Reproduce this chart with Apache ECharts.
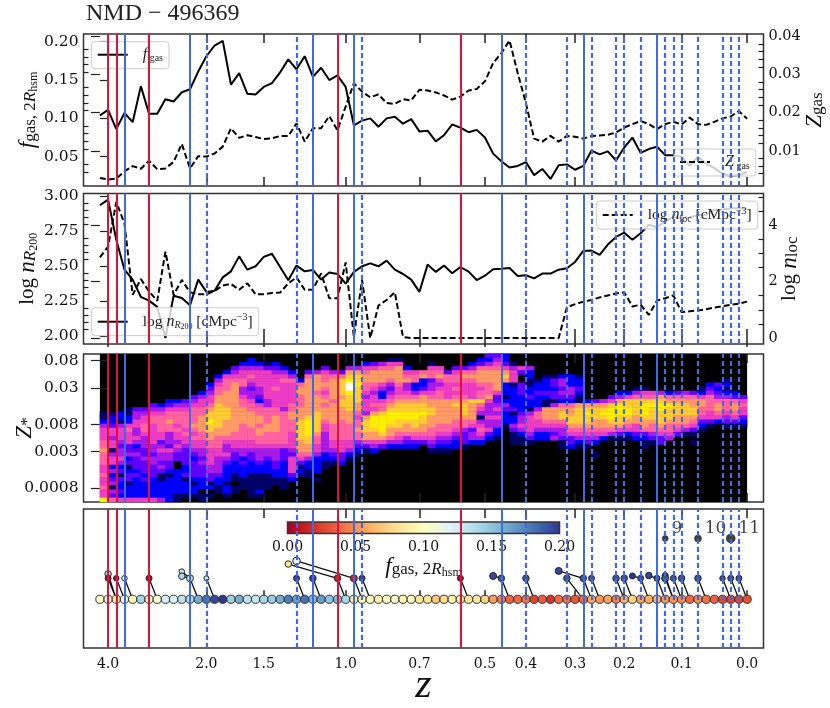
<!DOCTYPE html>
<html>
<head>
<meta charset="utf-8">
<style>html,body{margin:0;padding:0;background:#fff}#main{width:830px;height:708px}</style>
<script src="https://cdn.jsdelivr.net/npm/echarts@6/dist/echarts.min.js"></script>
</head>
<body>
<div id="main"></div>
<script>
// snapshots are equally spaced on the x axis, the redshift labels sit on top of that
var zTickIdx = [1, 13, 20, 30, 39, 47, 52, 58, 64, 71, 79];
var zTickLabels = ['4.0', '2.0', '1.5', '1.0', '0.7', '0.5', '0.4', '0.3', '0.2', '0.1', '0.0'];

var fgas = [0.104, 0.111, 0.086, 0.107, 0.095, 0.142, 0.106, 0.106, 0.125, 0.122,
	0.134, 0.138, 0.161, 0.181, 0.195, 0.201, 0.144, 0.159, 0.132, 0.131,
	0.141, 0.146, 0.160, 0.177, 0.164, 0.181, 0.154, 0.166, 0.150, 0.156,
	0.141, 0.091, 0.097, 0.100, 0.089, 0.100, 0.102, 0.093, 0.099, 0.083,
	0.084, 0.070, 0.078, 0.092, 0.088, 0.082, 0.085, 0.075, 0.054, 0.044,
	0.036, 0.038, 0.043, 0.026, 0.034, 0.021, 0.039, 0.040, 0.033, 0.038,
	0.058, 0.053, 0.057, 0.045, 0.062, 0.075, 0.055, 0.060, 0.063, 0.052,
	0.052, 0.050, 0.038, 0.050, 0.041, 0.035, 0.028, 0.025, 0.026, 0.030];
var zgas = [0.0029, 0.0025, 0.0027, 0.0046, 0.0060, 0.0053, 0.0074, 0.0052, 0.0054, 0.0071,
	0.0118, 0.0054, 0.0086, 0.0085, 0.0093, 0.0111, 0.0159, 0.0134, 0.0141, 0.0136,
	0.0131, 0.0133, 0.0139, 0.0139, 0.0172, 0.0124, 0.0159, 0.0159, 0.0191, 0.0154,
	0.0216, 0.0277, 0.0255, 0.0240, 0.0248, 0.0225, 0.0223, 0.0235, 0.0232, 0.0260,
	0.0258, 0.0253, 0.0245, 0.0234, 0.0242, 0.0258, 0.0262, 0.0282, 0.0330, 0.0356,
	0.0389, 0.0304, 0.0225, 0.0132, 0.0124, 0.0139, 0.0124, 0.0139, 0.0137, 0.0132,
	0.0139, 0.0140, 0.0142, 0.0148, 0.0161, 0.0170, 0.0178, 0.0170, 0.0157, 0.0170,
	0.0176, 0.0169, 0.0187, 0.0170, 0.0168, 0.0176, 0.0185, 0.0190, 0.0204, 0.0184];
var nR200 = [2.936, 2.976, 2.690, 2.476, 2.405, 2.281, 2.255, 2.210, 1.988, 2.290,
	2.274, 2.221, 2.405, 2.317, 2.326, 2.421, 2.464, 2.571, 2.476, 2.500,
	2.567, 2.590, 2.495, 2.400, 2.505, 2.464, 2.474, 2.405, 2.455, 2.445,
	2.376, 2.460, 2.500, 2.521, 2.500, 2.540, 2.476, 2.445, 2.405, 2.317,
	2.512, 2.460, 2.505, 2.450, 2.495, 2.462, 2.402, 2.433, 2.479, 2.483,
	2.488, 2.431, 2.436, 2.414, 2.448, 2.448, 2.476, 2.486, 2.531, 2.610,
	2.612, 2.581, 2.655, 2.710, 2.740, 2.690, 2.736, 2.798, 2.779, 2.821,
	2.852, 2.845, 2.850, 2.864, 2.869, 2.902, 2.905, 2.912, 2.917, 2.910];
var nLoc = [2.86, 3.24, 4.82, 4.06, 1.53, 2.09, 1.65, 1.32, 3.06, 1.53,
	2.06, 1.62, 1.55, 1.55, 1.67, 1.86, 1.92, 1.71, 1.94, 1.55,
	1.55, 1.60, 1.61, 1.94, 2.15, 1.71, 1.72, 2.29, 1.41, 1.41,
	2.68, 0.04, 2.06, 0, 1.15, 1.35, 1.62, 0.04, 0, 0,
	0, 0, 0, 0, 0, 0, 0, 0, 0, 0,
	0, 0, 0, 0, 0, 0, 0, 1.09, 1.20, 1.29,
	1.35, 1.44, 1.51, 1.58, 1.62, 1.12, 1.18, 0.82, 1.33, 1.41,
	1.51, 0.92, 0.95, 0.98, 1.02, 1.08, 1.13, 1.18, 1.22, 1.29];

// event lines
var redSolid = [1, 2, 6, 29, 44];
var blueSolid = [3, 11, 26, 31, 49, 59, 68];
var blueDashed = [13, 24, 32, 52, 57, 60, 63, 64, 66, 69, 70, 71, 73, 76, 77, 78];

// Z* map: first filled row of each column (0 = top) and the colour level of the rows below it
var zstarTop = [14, 14, 14, 13, 13, 13, 12, 12, 11, 11, 11, 10, 9, 7, 5, 4, 3, 2, 1, 2,
	2, 2, 3, 4, 6, 4, 4, 3, 4, 4, 3, 3, 2, 2, 2, 1, 1, 3, 4, 4,
	2, 3, 4, 3, 3, 2, 1, 0, 0, 0, 2, 3, 3, 6, 5, 5, 5, 5, 5, 11,
	11, 11, 10, 9, 9, 8, 8, 9, 9, 9, 9, 9, 9, 8, 7, 7, 6, 9, 10];
var zstarCols = [
	'1124555667666556556559', '1223554551455242341436', '2214555434454231322325',
	'11225655533423123312225', '34455445423433323222225', '34556654443343332322225',
	'345665555544344333222225', '245666655345443431122224', '2356676644435443321222222',
	'2456665655454330022222211', '3456666565543333223122210', '34566667656554323333212210',
	'245566777766554434333222011', '23455678898877665555443312010', '2456677888888776665544443221100',
	'25666777788877776544543222212210', '345677777777777766554332221101100', '2455664456677776666554423222111000',
	'22456543445667777666554332221111110', '2455554432566776776654443221111210', '1355555554466667766654432221111000',
	'234555655556677776665444332211', '245655555546666666653332222111', '246555556677666555543555532',
	'267766677788888777653121', '36777777777899998877642211', '477776777788888766554222201',
	'3566765676777655444442211', '46777776777776666554321', '36888878877766666555332',
	'4789aa98888777666655421', '4788988887765667664321', '2567766545554788877531',
	'3577765455657999877542', '467775422566899998753', '1567764345678999877642',
	'1577776556788998876542', '25674456788998776432', '5662246788998876532',
	'672235778898877653', '1566344567788777665431', '567545667777776654321',
	'36655557777776654321', '35665656787776654322', '36765556788876643331',
	'24676555587777653442', '236777656686541456542', '324677766675444544532',
	'345677777533454544221', '223578722212432221', '14555122222312243111',
	'5300333222234454211', '4221122322145555431', '122322246655422',
	'1222321177765422', '1332331477765434', '244343267886544311',
	'222443267788765332', '122321178888765421', '278988765431',
	'37888776542001', '4789877652', '35899987641',
	'247999887531', '258899876521', '1468888775532',
	'156899987763211', '5689888766431', '4789988876533',
	'267988876654', '36788877653', '46788877641',
	'3677887653101', '12577665321', '23466665531',
	'3234677652', '121246665431', '236776531', '35655321'];

// merger nodes of the bottom panel and where their connector ends
var nodeIdx = [1, 1, 2, 3, 6, 10, 10, 11, 13, 23, 24, 24, 26, 29, 31, 32, 44, 48, 49, 52,
	56, 57, 59, 60, 63, 64, 65, 66, 67, 68, 69, 69, 70, 71, 73, 76, 77, 78];
var nodeLevel = [1.21, 1, 1, 1, 1, 1.32, 1.10, 1, 1, 1.68, 1.83, 1, 1, 1, 1, 1, 1, 1.11, 1, 1,
	1.35, 1, 1, 1, 1, 1, 1.11, 1, 1.13, 1, 1.13, 1, 1, 1, 1, 1, 1, 1];
var nodeFgas = [0.14, 0.005, 0.005, 0.105, 0.005, 0.135, 0.14, 0.135, 0.135, 0.085, 0.115, 0.195, 0.195, 0.015, 0.015, 0.195, 0.005, 0.195, 0.19, 0.19,
	0.195, 0.19, 0.19, 0.19, 0.19, 0.19, 0.2, 0.19, 0.195, 0.19, 0.195, 0.19, 0.19, 0.19, 0.19, 0.19, 0.19, 0.19];
var nodeSize = [6.5, 6, 5.5, 5.5, 6, 5.5, 6.5, 7, 5, 6.5, 7.5, 6, 6.5, 6.5, 7, 6, 6, 7, 6.5, 6.5,
	7, 6.5, 6.5, 6, 6.5, 6.5, 6, 6, 6.5, 6, 6, 7, 6, 6.5, 6.5, 5.5, 6, 6];
var nodeToIdx = [2, 2, 3, 4, 7, 11, 11, 12, 14, 29, 31, 25, 27, 30, 32, 33, 45, 49, 50, 53,
	59, 59, 60, 61, 64, 65, 66, 67, 68, 69, 70, 70, 71, 72, 74, 77, 78, 79];
var nodeToLevel = [0, 0, 0, 0, 0, 1, 1, 0, 0, 1, 1, 0, 0, 0, 0, 0, 0, 1, 0, 0,
	1, 0, 0, 0, 0, 0, 1, 0, 1, 0, 0, 0, 0, 0, 0, 0, 0, 0];

// black size key in the corner
var sizeKeyIdx = [69, 73, 77];
var sizeKeySize = [6, 7, 9];
var sizeKeyLabels = ['9', '10', '11'];

var cbarTicks = [0, 0.05, 0.1, 0.15, 0.2];
var rdylbu = ['#a50026', '#d73027', '#f46d43', '#fdae61', '#fee090', '#ffffbf', '#e0f3f8', '#abd9e9', '#74add1', '#4575b4', '#313695'];
var gnuplot2 = ['#000000', '#000066', '#0000ff', '#6000ff', '#a81ae8', '#ec3cc4', '#ff62a0', '#ff9a66', '#ffcc33', '#ffee00', '#ffffff'];

var SERIF = 'DejaVu Serif';
var MATH = 'Liberation Serif';
var FRAME = '#333';

function xy(arr) {
	return arr.map(function (v, i) { return [i, v]; });
}
function steps(a, b, d, skip) {
	var out = [];
	for (var k = 0; a + k * d <= b + d / 100; k++) {
		if (k % skip) out.push(+(a + k * d).toFixed(4));
	}
	return out;
}

function xAxisOf(g, pos, withLabels, tickLen) {
	return {
		type: 'value', gridIndex: g, position: pos, min: -2, max: 81,
		splitLine: { show: false }, axisLine: { show: false },
		axisTick: { show: true, inside: true, length: tickLen, customValues: zTickIdx, lineStyle: { color: '#222', width: 1.5 } },
		axisLabel: {
			show: withLabels, customValues: zTickIdx, margin: 9, fontSize: 14, fontFamily: SERIF, color: '#111',
			formatter: function (v) { return zTickLabels[zTickIdx.indexOf(v)]; }
		}
	};
}
function yAxisOf(g, pos, min, max, ticks, tickLen, fmt, name, gap) {
	var a = {
		type: 'value', gridIndex: g, position: pos, min: min, max: max,
		splitLine: { show: false }, axisLine: { show: false },
		axisTick: { show: tickLen > 0, inside: true, length: tickLen, customValues: ticks, lineStyle: { color: '#222', width: 1.2 } },
		axisLabel: { show: !!fmt, customValues: ticks, margin: 5, fontSize: pos === 'left' ? 15.5 : 14.5, fontFamily: SERIF, color: '#111', formatter: fmt }
	};
	if (name) {
		a.name = name;
		a.nameLocation = 'middle';
		a.nameRotate = 90;
		a.nameGap = gap;
		a.nameMoveOverlap = false;
		a.nameTextStyle = { rich: mathRich, color: '#111' };
	}
	return a;
}

var mathRich = {
	t: { fontFamily: MATH, fontSize: 21, color: '#111', lineHeight: 24 },
	i: { fontFamily: MATH, fontStyle: 'italic', fontSize: 23, color: '#111', lineHeight: 24 },
	s: { fontFamily: MATH, fontSize: 17, color: '#111', lineHeight: 16, verticalAlign: 'bottom' },
	si: { fontFamily: MATH, fontStyle: 'italic', fontSize: 17, color: '#111', lineHeight: 16, verticalAlign: 'bottom' },
	ss: { fontFamily: MATH, fontSize: 12, color: '#111', lineHeight: 10, verticalAlign: 'bottom' }
};
var legRich = {
	g: { width: 10 },
	t: { fontFamily: MATH, fontSize: 15.5, color: '#222', lineHeight: 18 },
	i: { fontFamily: MATH, fontStyle: 'italic', fontSize: 16, color: '#222', lineHeight: 18 },
	s: { fontFamily: MATH, fontSize: 10, color: '#222', lineHeight: 12, verticalAlign: 'bottom' },
	si: { fontFamily: MATH, fontStyle: 'italic', fontSize: 10, color: '#222', lineHeight: 12, verticalAlign: 'bottom' },
	ss: { fontFamily: MATH, fontSize: 8, color: '#222', lineHeight: 9, verticalAlign: 'bottom' },
	u: { fontFamily: MATH, fontSize: 10, color: '#222', lineHeight: 18, verticalAlign: 'top' }
};
var legendText = {
	fgas: '{g|}{i|f}{s| gas}',
	Zgas: '{g|}{i|Z}{s| gas}',
	nR200: '{g|}{t|log }{i|n}{si|R}{ss|200}{t| [cMpc}{u|−3}{t|]}',
	nLoc: '{g|}{t|log }{i|n}{s|loc}{t| [cMpc}{u|−3}{t|]}'
};
function legendOf(name, left, top) {
	return {
		data: [name], left: left, top: top, orient: 'horizontal', padding: [5, 6, 5, 5],
		itemWidth: 30, itemHeight: 14, selectedMode: false, itemStyle: { opacity: 0 },
		backgroundColor: 'rgba(255,255,255,0.8)', borderColor: '#ccc', borderWidth: 1, borderRadius: 3,
		textStyle: { rich: legRich },
		formatter: function (n) { return legendText[n]; }
	};
}
function lineSeries(name, arr, xi, yi, dashed) {
	return {
		name: name, type: 'line', data: xy(arr), xAxisIndex: xi, yAxisIndex: yi, symbol: 'none', z: 3, silent: true,
		lineStyle: { color: '#000', width: 2, type: dashed ? [6, 3] : 'solid' }, itemStyle: { color: '#000' }
	};
}
function eventLines(xi, yi, anchorY, z) {
	var d = [];
	redSolid.forEach(function (i) { d.push({ xAxis: i, lineStyle: { color: '#dc143c', type: 'solid', width: 2 } }); });
	blueSolid.forEach(function (i) { d.push({ xAxis: i, lineStyle: { color: '#4169e1', type: 'solid', width: 2 } }); });
	blueDashed.forEach(function (i) { d.push({ xAxis: i, lineStyle: { color: '#4169e1', type: [5, 3], width: 2.2 } }); });
	return {
		type: 'line', xAxisIndex: xi, yAxisIndex: yi, data: [[-2, anchorY]], symbol: 'none', silent: true, z: z,
		lineStyle: { opacity: 0 },
		markLine: { silent: true, symbol: 'none', label: { show: false }, animation: false, data: d }
	};
}

// grids: four panels, then colour bar and the map inside panel three
var grids = [
	{ left: 83.5, top: 34, width: 680, height: 152 },
	{ left: 83.5, top: 193.5, width: 680, height: 150.5 },
	{ left: 83.5, top: 354, width: 680, height: 148 },
	{ left: 83.5, top: 509, width: 680, height: 139 },
	{ left: 287.5, top: 522, width: 272, height: 11.5 },
	{ left: 99.9, top: 354, width: 647.2, height: 148 }
].map(function (g) {
	g.show = true;
	g.outerBoundsMode = 'none';
	g.borderColor = FRAME;
	g.borderWidth = 1.5;
	g.backgroundColor = 'transparent';
	return g;
});
grids[4].backgroundColor = new echarts.graphic.LinearGradient(0, 0, 1, 0, rdylbu.map(function (c, i) {
	return { offset: i / 10, color: c };
}));
grids[5].backgroundColor = '#000';
grids[5].borderWidth = 0;

var xAxes = [];
for (var g = 0; g < 4; g++) {
	xAxes.push(xAxisOf(g, 'bottom', g === 3, 9));
	xAxes.push(xAxisOf(g, 'top', false, 9));
}
xAxes[6].name = 'z';
xAxes[6].nameLocation = 'middle';
xAxes[6].nameGap = 17;
xAxes[6].nameMoveOverlap = false;
xAxes[6].nameTextStyle = { fontFamily: MATH, fontStyle: 'italic', fontSize: 42, color: '#111' };
// colour bar axis (8) and map column axis (9)
xAxes.push({
	type: 'value', gridIndex: 4, min: 0, max: 0.2, position: 'bottom',
	splitLine: { show: false }, axisLine: { show: false }, axisTick: { show: false },
	axisLabel: { customValues: cbarTicks, margin: 7, fontSize: 14, fontFamily: SERIF, color: '#111', formatter: function (v) { return v.toFixed(2); } },
	name: '{i|f}{s|gas, 2}{si|R}{ss|hsm}', nameLocation: 'middle', nameGap: 21, nameMoveOverlap: false,
	nameTextStyle: { rich: mathRich }
});
xAxes.push({ type: 'category', gridIndex: 5, data: zstarCols.map(function (c, i) { return i; }), show: false });

var yTicks3 = [0.08, 0.03, 0.008, 0.003, 0.0008].map(Math.log10);
var yAxes = [
	yAxisOf(0, 'left', 0.0118, 0.21, [0.05, 0.1, 0.15, 0.2], 9, function (v) { return v.toFixed(2); },
		'{i|f}{s|gas, 2}{si|R}{ss|hsm}', 44),
	yAxisOf(0, 'right', 0.00079, 0.0406, [0.01, 0.02, 0.03, 0.04], 9, function (v) { return v.toFixed(2); },
		'{i|Z}{s|gas}', 39),
	yAxisOf(0, 'left', 0.0118, 0.21, steps(0.02, 0.2, 0.01, 100).filter(function (v) { return Math.abs(v * 20 - Math.round(v * 20)) > 0.01; }), 5),
	yAxisOf(0, 'right', 0.00079, 0.0406, steps(0.002, 0.04, 0.002, 100).filter(function (v) { return Math.abs(v * 100 - Math.round(v * 100)) > 0.01; }), 5),

	yAxisOf(1, 'left', 1.945, 3.02, [2, 2.25, 2.5, 2.75, 3], 9, function (v) { return v.toFixed(2); },
		'{t|log }{i|n}{si|R}{ss|200}', 44),
	yAxisOf(1, 'right', -0.21, 5.12, [0, 2, 4], 9, function (v) { return String(v); },
		'{t|log }{i|n}{s|loc}', 14),
	yAxisOf(1, 'left', 1.945, 3.02, steps(2, 3, 0.05, 5), 5),
	yAxisOf(1, 'right', -0.21, 5.12, steps(0, 5, 0.5, 4), 5),

	yAxisOf(2, 'left', -3.3117, -0.992, yTicks3, 9, function (v) { return String(+Math.pow(10, v).toPrecision(1)); },
		'{i|Z}{s|*}', 47),
	yAxisOf(2, 'right', -3.3117, -0.992, yTicks3, 9),

	{ type: 'value', gridIndex: 3, min: -2.32, max: 4.3, show: false },
	{ type: 'value', gridIndex: 4, min: 0, max: 1, show: false },
	{ type: 'category', gridIndex: 5, inverse: true, data: Array.from({ length: 36 }, function (_, i) { return i; }), show: false }
];

// map cells
var cells = [];
zstarCols.forEach(function (col, c) {
	for (var k = 0; k < col.length; k++) {
		var lev = parseInt(col[k], 16);
		if (lev > 0) cells.push([c, zstarTop[c] + k, lev]);
	}
});
var connectors = [];
nodeIdx.forEach(function (i, k) {
	connectors.push([i, nodeLevel[k]], [nodeToIdx[k], nodeToLevel[k]], [null, null]);
});

var series = [
	eventLines(0, 0, 0.1, 1),
	lineSeries('fgas', fgas, 0, 0, false),
	lineSeries('Zgas', zgas, 0, 1, true),
	eventLines(2, 4, 2.5, 1),
	lineSeries('nR200', nR200, 2, 4, false),
	lineSeries('nLoc', nLoc, 2, 5, true),
	{
		type: 'heatmap', xAxisIndex: 9, yAxisIndex: 12, data: cells, z: 1, silent: true, progressive: 0,
		itemStyle: { borderWidth: 0 }
	},
	eventLines(4, 8, -2, 5),
	eventLines(6, 10, 0, 1),
	{
		type: 'line', xAxisIndex: 6, yAxisIndex: 10, data: xy(fgas.map(function () { return 0; })), symbol: 'none', silent: true, z: 2,
		lineStyle: { color: '#222', width: 1 }
	},
	{
		type: 'line', xAxisIndex: 6, yAxisIndex: 10, data: connectors, symbol: 'none', silent: true, z: 2, connectNulls: false,
		lineStyle: { color: '#111', width: 1.3 }
	},
	{
		type: 'scatter', xAxisIndex: 6, yAxisIndex: 10, silent: true, z: 3, symbolSize: 8.2,
		data: fgas.map(function (f, i) { return [i, 0, f]; }),
		itemStyle: { borderColor: '#333', borderWidth: 1, opacity: 1 }
	},
	{
		type: 'scatter', xAxisIndex: 6, yAxisIndex: 10, silent: true, z: 3,
		data: nodeIdx.map(function (i, k) { return [i, nodeLevel[k], nodeFgas[k], nodeSize[k]]; }),
		symbolSize: function (v) { return v[3]; },
		itemStyle: { borderColor: '#222', borderWidth: 1, opacity: 1 }
	},
	{
		type: 'scatter', xAxisIndex: 6, yAxisIndex: 10, silent: true, z: 3,
		data: sizeKeyIdx.map(function (i, k) { return { value: [i, 2.9], symbolSize: sizeKeySize[k], label: { formatter: sizeKeyLabels[k] } }; }),
		itemStyle: { color: '#111', borderColor: '#000', borderWidth: 0.5 },
		label: { show: true, position: 'right', distance: 3, offset: [0, -10], fontFamily: SERIF, fontSize: 17, color: '#111' }
	}
];
var heatIndex = 6;
var fgasScatter = [11, 12];

var chart = echarts.init(document.getElementById('main'), null, { renderer: 'canvas' });
chart.setOption({
	animation: false,
	backgroundColor: '#fff',
	textStyle: { fontFamily: SERIF },
	title: {
		text: 'NMD − 496369', left: 86, top: 2, padding: 0,
		textStyle: { fontFamily: MATH, fontWeight: 'normal', fontSize: 24, color: '#222' }
	},
	legend: [
		legendOf('fgas', 91.7, 41.7),
		legendOf('Zgas', 674, 149),
		legendOf('nR200', 91.7, 307.7),
		legendOf('nLoc', 596.7, 201)
	],
	visualMap: [
		{ type: 'continuous', show: false, seriesIndex: fgasScatter, dimension: 2, min: 0, max: 0.2, inRange: { color: rdylbu } },
		{ type: 'continuous', show: false, seriesIndex: heatIndex, dimension: 2, min: 0, max: 10, inRange: { color: gnuplot2 } }
	],
	grid: grids,
	xAxis: xAxes,
	yAxis: yAxes,
	series: series
});
</script>
</body>
</html>
